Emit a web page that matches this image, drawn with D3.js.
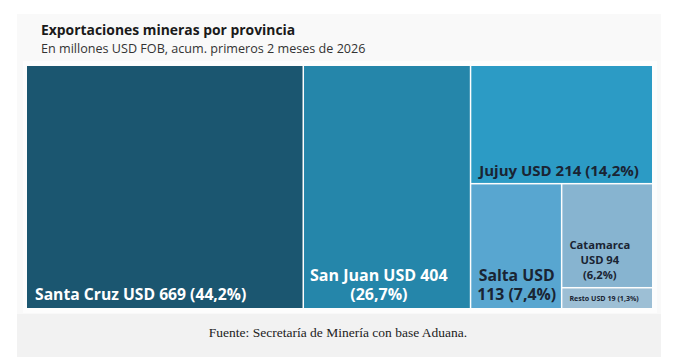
<!DOCTYPE html>
<html><head><meta charset="utf-8">
<script src="https://cdn.jsdelivr.net/npm/d3@7"></script>
<style>
html,body{margin:0;padding:0;background:#fff;}
svg{display:block;}
</style></head>
<body>
<svg id="chart" width="673" height="364"></svg>
<script>
const provinces = ["Santa Cruz","San Juan","Jujuy","Salta","Catamarca","Resto"];
const values = [669, 404, 214, 113, 94, 19];
const percents = ["44,2","26,7","14,2","7,4","6,2","1,3"];
const colors = ["#1b5670","#2586aa","#2c9bc5","#58a6d0","#87b4d0","#9dbfd5"];
const title = "Exportaciones mineras por provincia";
const subtitle = "En millones USD FOB, acum. primeros 2 meses de 2026";
const source = "Fuente: Secretaría de Minería con base Aduana.";

const svg = d3.select("#chart");
const sans = "'Open Sans', 'DejaVu Sans', sans-serif";

// panels
svg.append("rect").attr("x",17).attr("y",14).attr("width",644).attr("height",300).attr("fill","#f9f9f9");
svg.append("rect").attr("x",17).attr("y",314).attr("width",644).attr("height",43).attr("fill","#f2f2f2");
svg.append("rect").attr("x",23).attr("y",61).attr("width",634).attr("height",252).attr("fill","#fdfdfd");

svg.append("text").attr("x",41).attr("y",35).attr("font-family",sans).attr("font-weight",700)
  .attr("font-size",13.9).attr("fill","#1a1a1a").text(title);
svg.append("text").attr("x",41).attr("y",53).attr("font-family",sans).attr("font-weight",400)
  .attr("font-size",12.6).attr("fill","#333").text(subtitle);

const data = provinces.map((p,i)=>({name:p, value:values[i], pct:percents[i], color:colors[i], idx:i}));
const root = d3.hierarchy({children:data}).sum(d=>d.value||0);
const x0 = 27, y0 = 66, x1 = 652, y1 = 308;
d3.treemap().tile(d3.treemapSquarify.ratio(1)).size([x1-x0, y1-y0]).paddingInner(1.5).round(false)(root);

const g = svg.append("g").attr("transform",`translate(${x0},${y0})`);
const leaves = root.leaves();
const cell = g.selectAll("g.cell").data(leaves).join("g").attr("class","cell");
cell.append("rect").attr("x",d=>d.x0).attr("y",d=>d.y0)
  .attr("width",d=>d.x1-d.x0).attr("height",d=>d.y1-d.y0).attr("fill",d=>d.data.color);

// label layouts per cell (line splitting and text style)
function labelLines(d){
  const n=d.data.name, v=d.data.value, p=d.data.pct;
  switch(d.data.idx){
    case 0: return {lines:[`${n} USD ${v} (${p}%)`], size:15.7, lh:19, fill:"#fff", padX:8, padY:8};
    case 1: return {lines:[`${n} USD ${v}`, `(${p}%)`], size:16, lh:19, fill:"#fff", padX:6, padY:8};
    case 2: return {lines:[`${n} USD ${v} (${p}%)`], size:15, lh:19, fill:"#1a2433", padX:8, padY:7};
    case 3: return {lines:[`${n} USD`, `${v} (${p}%)`], size:15.8, lh:19, fill:"#1a2433", padX:6, padY:8};
    case 4: return {lines:[`${n}`, `USD ${v}`, `(${p}%)`], size:11.2, lh:15, fill:"#1a2433", padX:7, padY:8};
    default: return {lines:[`${n} USD ${v} (${p}%)`], size:7.1, lh:9, fill:"#1a2433", padX:7, padY:7};
  }
}
cell.each(function(d){
  const L = labelLines(d);
  const n = L.lines.length;
  const t = d3.select(this).append("text").attr("font-family",sans).attr("font-weight",700)
    .attr("font-size",L.size).attr("fill",L.fill).attr("text-anchor","middle");
  const spans = L.lines.map((ln,i)=> t.append("tspan").attr("y",d.y1-L.padY-(n-1-i)*L.lh).text(ln));
  const maxW = d3.max(spans, s=>s.node().getComputedTextLength());
  const cx = d.x0 + L.padX + maxW/2;
  spans.forEach(s=>s.attr("x",cx));
});

svg.append("text").attr("x",338).attr("y",337).attr("text-anchor","middle")
  .attr("font-family","'Liberation Serif', 'DejaVu Serif', serif").attr("font-size",13.5)
  .attr("fill","#222").text(source);
</script>
</body></html>
